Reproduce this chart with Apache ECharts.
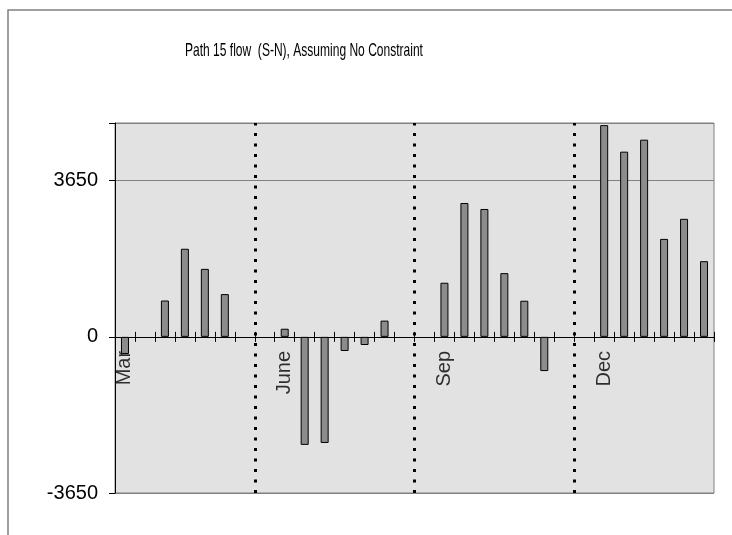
<!DOCTYPE html>
<html>
<head>
<meta charset="utf-8">
<script src="https://cdn.jsdelivr.net/npm/echarts@6/dist/echarts.min.js"></script>
<style>
html,body{margin:0;padding:0;background:#fff;}
#chart{width:732px;height:535px;}
</style>
</head>
<body>
<div id="chart"></div>
<script>
// ---- data ----
const titleText = 'Path 15 flow  (S-N), Assuming No Constraint';
const categories = ['1','2','3','4','5','6','7','8','9','10','11','12','13','14','15',
                    '16','17','18','19','20','21','22','23','24','25','26','27','28','29','30'];
const flowValues = [-400, null, 850, 2060, 1590, 1000, null,
                    null, 190, -2525, -2480, -330, -190, 380, null,
                    null, 1265, 3130, 2990, 1490, 845, -800, null,
                    null, 4950, 4330, 4610, 2290, 2760, 1770];
const monthLabels = ['Mar', 'June', 'Sep', 'Dec'];
const monthLabelIndex = [0, 8, 16, 24];
const dividerPositions = [7, 15, 23];   // boundaries (in category units) of dotted separators
const yTickValues = [-3650, 0, 3650];
const yMin = -3650, yMax = 5000, yStep = 3650;

const FONT = '"Liberation Sans", Arial, sans-serif';
const chart = echarts.init(document.getElementById('chart'), null, {renderer: 'canvas'});

const monthLabelData = monthLabelIndex.map(function (ci, k) {
  return {name: monthLabels[k], value: [ci, 0]};
});

const option = {
  animation: false,
  backgroundColor: '#ffffff',
  graphic: {
    elements: [
      {
        type: 'rect', z: -10, silent: true,
        shape: {x: 8, y: 10, width: 900, height: 700},
        style: {fill: 'none', stroke: '#808080', lineWidth: 1.5}
      },
      {
        type: 'group', x: 185, y: 51, scaleX: 0.633, scaleY: 1, silent: true,
        children: [{
          type: 'text', x: 0, y: 0,
          style: {
            text: titleText, fill: '#000',
            font: 'normal 19px "Liberation Sans", Arial, sans-serif',
            textAlign: 'left', textVerticalAlign: 'middle'
          }
        }]
      }
    ]
  },
  grid: {
    left: 115, right: 18, top: 123, bottom: 42,
    show: true, backgroundColor: '#e2e2e2',
    borderColor: '#808080', borderWidth: 1,
    outerBoundsMode: 'none'
  },
  xAxis: [
    {
      type: 'category', data: categories, boundaryGap: true,
      axisLine: {onZero: true, onZeroAxisIndex: 0, lineStyle: {color: '#000', width: 1}},
      axisTick: {show: true, interval: 0, length: 5, inside: false, lineStyle: {color: '#000'}},
      axisLabel: {show: false},
      splitLine: {show: false}
    },
    {
      type: 'category', data: categories, boundaryGap: true, position: 'top',
      axisLine: {show: false, onZero: true, onZeroAxisIndex: 0},
      axisTick: {show: true, interval: 0, length: 5, inside: false, lineStyle: {color: '#000'}},
      axisLabel: {show: false},
      splitLine: {show: false}
    },
    {
      type: 'value', min: 0, max: categories.length, show: false,
      axisLine: {onZero: false}, splitLine: {show: false}
    }
  ],
  yAxis: {
    type: 'value', min: yMin, max: yMax, interval: yStep,
    axisLine: {show: true, lineStyle: {color: '#000', width: 1}},
    axisTick: {show: true, length: 6, lineStyle: {color: '#000'}},
    axisLabel: {
      margin: 17, color: '#000', fontSize: 20, fontFamily: FONT,
      formatter: function (v) { return yTickValues.indexOf(v) >= 0 ? String(v) : ''; }
    },
    splitLine: {show: true, lineStyle: {color: '#808080', width: 1}}
  },
  series: [
    {
      type: 'scatter', xAxisIndex: 0, yAxisIndex: 0, z: 1, silent: true,
      data: monthLabelData, symbol: 'circle', symbolSize: 0.1,
      itemStyle: {color: 'rgba(0,0,0,0)'},
      label: {
        show: true, formatter: '{b}', position: 'bottom', distance: 14,
        rotate: 90, align: 'right', verticalAlign: 'middle',
        color: '#000', fontSize: 20, fontFamily: FONT
      }
    },
    {
      type: 'line', xAxisIndex: 2, yAxisIndex: 0, data: [], silent: true, z: 1,
      markLine: {
        silent: true, symbol: 'none', animation: false,
        label: {show: false},
        lineStyle: {color: '#000', width: 3, type: [3, 7.5]},
        emphasis: {disabled: true},
        data: dividerPositions.map(function (p) { return {xAxis: p}; })
      }
    },
    {
      type: 'bar', xAxisIndex: 0, yAxisIndex: 0, z: 3,
      data: flowValues, barWidth: 8,
      itemStyle: {color: '#8c8c8c', borderColor: '#000', borderWidth: 1}
    }
  ]
};
chart.setOption(option);
</script>
</body>
</html>
